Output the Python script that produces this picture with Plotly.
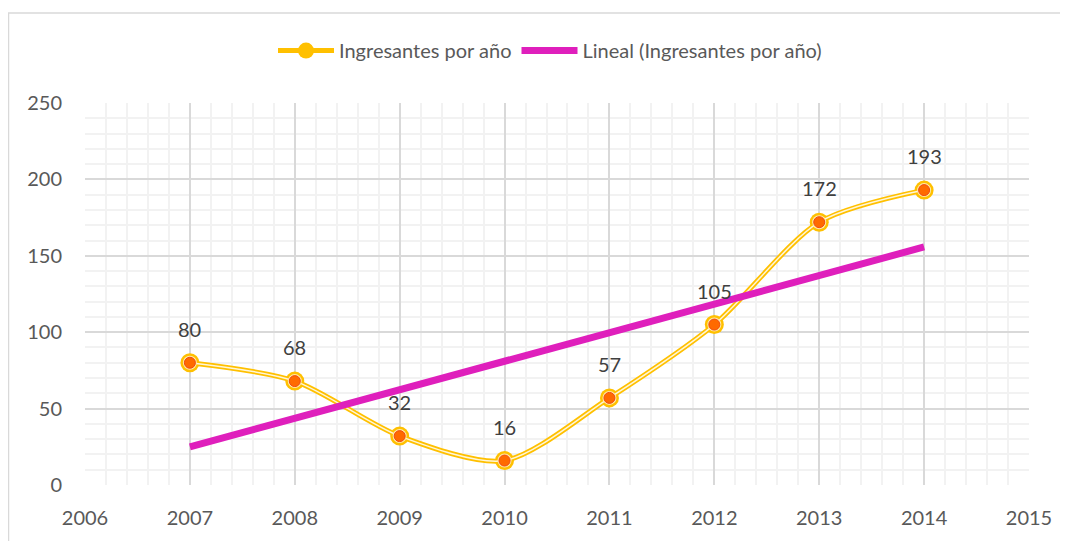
import plotly.graph_objects as go

years = [2007, 2008, 2009, 2010, 2011, 2012, 2013, 2014]
ingresantes = [80, 68, 32, 16, 57, 105, 172, 193]
trend_years = [2007, 2014]
trend_values = [24.9, 155.8]
x_ticks = [2006, 2007, 2008, 2009, 2010, 2011, 2012, 2013, 2014, 2015]
y_ticks = [0, 50, 100, 150, 200, 250]

series_name = "Ingresantes por año"
trend_name = "Lineal (Ingresantes por año)"

FONT = "Lato, 'Open Sans', sans-serif"

# page body has an 8px margin: figure is sized/placed to compensate
W, H = 1060, 533
L, T, R, B = 77, 95, 39, 52
PW = W - L - R
PH = H - T - B

fig = go.Figure()

fig.add_trace(go.Scatter(
    x=years, y=ingresantes, mode="lines+markers", name=series_name,
    line=dict(color="#FFC000", width=5, shape="spline", smoothing=0.8),
    marker=dict(size=19, color="#FFC000"),
    showlegend=True, hoverinfo="skip"))
fig.add_trace(go.Scatter(
    x=years, y=ingresantes, mode="lines", showlegend=False,
    line=dict(color="#FFF6D8", width=1.5, shape="spline", smoothing=0.8),
    hoverinfo="skip"))
fig.add_trace(go.Scatter(
    x=years, y=ingresantes, mode="markers", showlegend=False,
    marker=dict(size=14, color="#FFE9A8"), hoverinfo="skip"))
fig.add_trace(go.Scatter(
    x=years, y=ingresantes, mode="markers", showlegend=False,
    marker=dict(size=11, color="#FF6A00", line=dict(color="#F04A10", width=1)),
    hoverinfo="skip"))

fig.add_trace(go.Scatter(
    x=trend_years, y=trend_values, mode="lines", name=trend_name,
    line=dict(color="#DF1FBC", width=7), hoverinfo="skip"))

for xv, yv in zip(years, ingresantes):
    fig.add_annotation(x=xv, y=yv, text=str(yv), showarrow=False,
                       yshift=34, font=dict(family=FONT, size=20, color="#404040"))

# chart border (left at page x=8, top at page y=12)
fig.add_shape(type="rect", xref="paper", yref="paper",
              x0=(0.5 - L) / PW, x1=(W + 20 - L) / PW,
              y0=-0.3, y1=1 + (T - 4) / PH,
              line=dict(color="#D9D9D9", width=1.5), layer="below")

fig.update_layout(
    width=W, height=H,
    margin=dict(l=L, r=R, t=T, b=B),
    paper_bgcolor="white", plot_bgcolor="white",
    font=dict(family=FONT, size=19, color="#595959"),
    showlegend=True,
    legend=dict(orientation="h", x=(550 - 8 - L) / PW, xanchor="center",
                y=1 + (T - 42) / PH, yanchor="middle",
                font=dict(family=FONT, size=20, color="#595959"),
                itemwidth=56, bgcolor="rgba(0,0,0,0)"),
    xaxis=dict(range=[2006, 2015], tickmode="array", tickvals=x_ticks,
               ticktext=[str(t) for t in x_ticks],
               showgrid=True, gridcolor="#D9D9D9", gridwidth=1.5,
               zeroline=False, showline=False, ticks="",
               tickfont=dict(family=FONT, size=20, color="#595959"),
               minor=dict(dtick=0.2, showgrid=True, gridcolor="#F2F2F2", gridwidth=1.5),
               ticklabelstandoff=19),
    yaxis=dict(range=[0, 250], tickmode="array", tickvals=y_ticks,
               showgrid=True, gridcolor="#D9D9D9", gridwidth=1.5,
               zeroline=False, showline=False, ticks="",
               tickfont=dict(family=FONT, size=20, color="#595959"),
               minor=dict(dtick=10, showgrid=True, gridcolor="#F2F2F2", gridwidth=1.5),
               ticklabelstandoff=22),
)

fig.write_html("out.html")
